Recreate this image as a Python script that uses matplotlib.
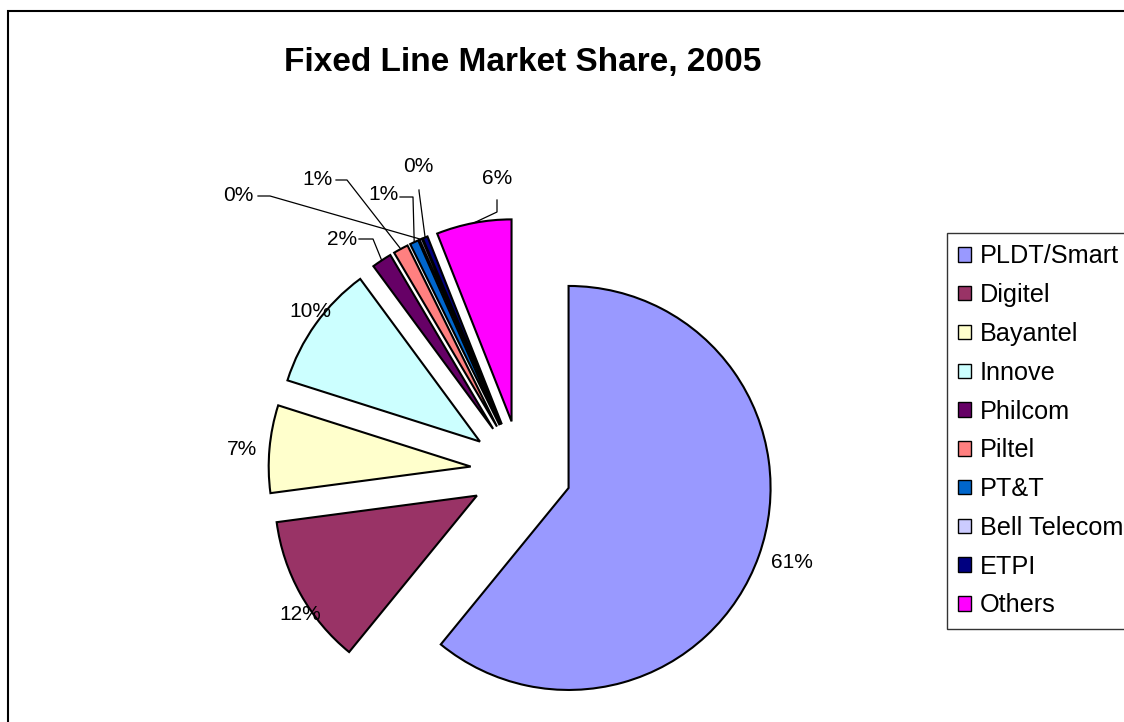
import numpy as np
import matplotlib
matplotlib.use("Agg")
import matplotlib.pyplot as plt
from matplotlib.patches import Patch, Rectangle

plt.rcParams['font.family'] = ['Liberation Sans', 'DejaVu Sans']

# data
companies = ["PLDT/Smart", "Digitel", "Bayantel", "Innove", "Philcom",
             "Piltel", "PT&T", "Bell Telecom", "ETPI", "Others"]
shares = [60.9, 12.0, 7.0, 10.0, 1.6, 1.2, 0.7, 0.2, 0.4, 6.0]
colors = ["#9999FF", "#993366", "#FFFFCC", "#CCFFFF", "#660066",
          "#FF8080", "#0066CC", "#CCCCFF", "#000080", "#FF00FF"]

# layout (pixels in the 1124x722 picture)
W, H = 1124, 722
S = 202.0           # pixels per unit radius
CX, CY = 521, 471   # pie centre in pixels


def px(x, y):
    return (x - CX) / S, (CY - y) / S


# label centres
label_px = [(792, 562), (300, 615), (242, 450), (310, 312), (342, 240),
            (318, 180), (383, 195), (238, 196), (418, 167), (497, 179)]
# leader lines: start and elbow (None = no leader)
leader_px = [None, None, None, None,
             [(359, 239), (373, 239)],
             [(336, 180), (347, 180)],
             [(400, 197), (413, 197)],
             [(258, 196), (270, 196)],
             [(419, 190), (419, 191)],
             [(497, 200), (497, 212)]]

fig = plt.figure(figsize=(W / 100, H / 100), dpi=100)
ax = fig.add_axes([0, 0, 1, 1])

wedges, _ = ax.pie(shares, colors=colors, startangle=90, counterclock=False,
                   explode=[0.25] * len(shares), radius=1,
                   wedgeprops=dict(edgecolor="black", linewidth=1.5))

ax.set_xlim(-CX / S, (W - CX) / S)
ax.set_ylim(-(H - CY) / S, CY / S)
ax.set_aspect("auto")
ax.axis("off")

total = sum(shares)
for i, w in enumerate(wedges):
    pct = 100 * shares[i] / total
    tx, ty = px(*label_px[i])
    ax.text(tx, ty, f"{round(pct):.0f}%", ha="center", va="center",
            fontsize=15, color="black")
    if leader_px[i] is not None:
        ang = np.deg2rad((w.theta1 + w.theta2) / 2)
        ex = w.center[0] + w.r * np.cos(ang)
        ey = w.center[1] + w.r * np.sin(ang)
        p1 = px(*leader_px[i][0])
        p2 = px(*leader_px[i][1])
        ax.plot([p1[0], p2[0], ex], [p1[1], p2[1], ey], color="black", lw=0.9)

fig.text(523 / W, 1 - 63 / H, "Fixed Line Market Share, 2005",
         ha="center", va="center", fontsize=24, fontweight="bold")

handles = [Patch(facecolor=c, edgecolor="black", linewidth=1) for c in colors]
leg = fig.legend(handles, companies, loc="upper left",
                 bbox_to_anchor=(947 / W, 1 - 233 / H), frameon=True,
                 fancybox=False, shadow=False, fontsize=18.2,
                 handlelength=0.5, handleheight=0.5, handletextpad=0.35,
                 labelspacing=0.585, borderpad=0.45, borderaxespad=0)
leg.get_frame().set_edgecolor("black")
leg.get_frame().set_linewidth(1.0)

fig.add_artist(Rectangle((8 / W, -0.05), 1.2, 1 - 10.5 / H + 0.05,
                         transform=fig.transFigure, fill=False,
                         edgecolor="black", linewidth=1.5))

fig.savefig("out.png", dpi=100)
